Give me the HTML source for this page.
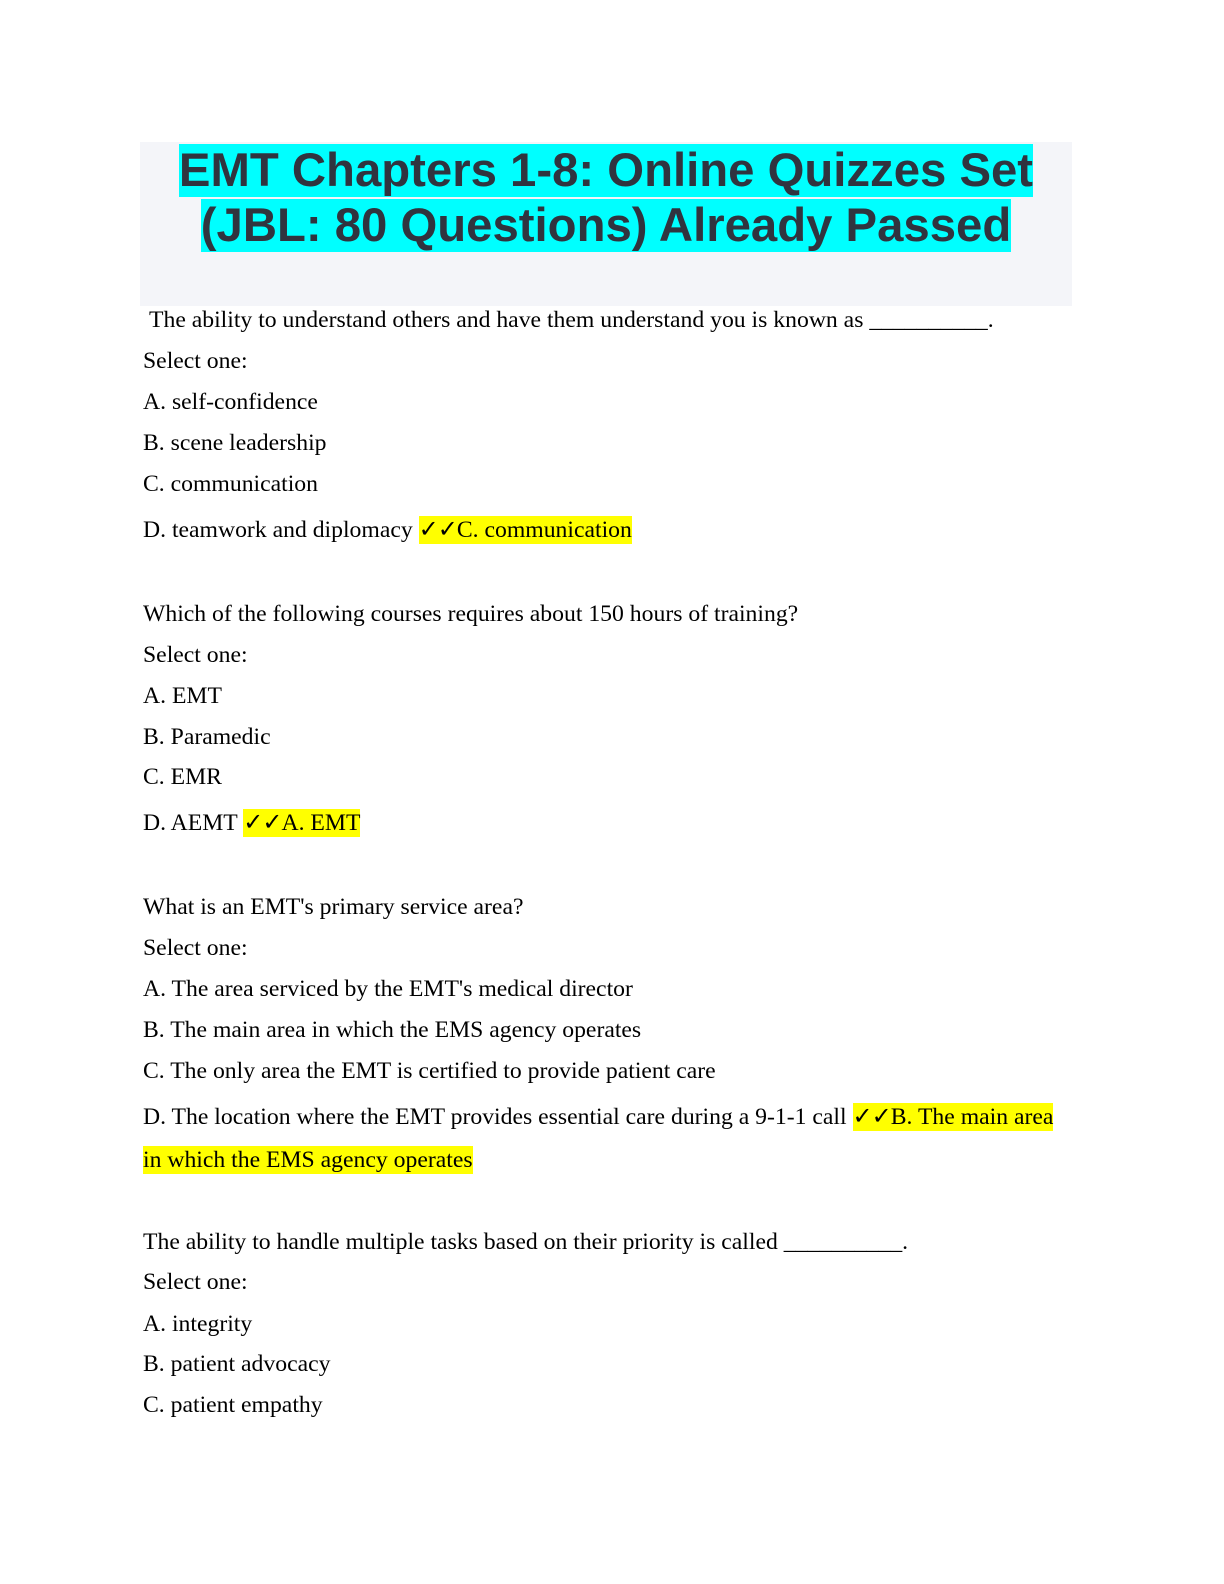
<!DOCTYPE html>
<html><head><meta charset="utf-8"><style>
body{margin:0;width:1224px;height:1584px;background:#fff;position:relative;overflow:hidden}
.box{position:absolute;left:140px;top:142px;width:932px;height:164px;background:#f4f5f9}
.title{position:absolute;left:140px;top:143px;width:932px;text-align:center;font:bold 47.3px/55px "Liberation Sans",sans-serif;color:#30343f}
.title span{background:#00ffff}
.l{position:absolute;left:143px;font:23.7px/28px "Liberation Serif",serif;color:#000;white-space:nowrap}
.h{background:#ffff00;padding:1px 0 1px}
.c{font-family:"DejaVu Sans",sans-serif;font-weight:bold;font-size:24px;letter-spacing:-1px}
</style></head><body>
<div class="box"></div>
<div class="title"><span>EMT Chapters 1-8: Online Quizzes Set</span><br><span>(JBL: 80 Questions) Already Passed</span></div>
<div class="l" style="top:306px;left:149px">The ability to understand others and have them understand you is known as __________.</div>
<div class="l" style="top:347px">Select one:</div>
<div class="l" style="top:388px">A. self-confidence</div>
<div class="l" style="top:429px">B. scene leadership</div>
<div class="l" style="top:470px">C. communication</div>
<div class="l" style="top:515px">D. teamwork and diplomacy <span class="h"><span class="c">✓✓</span>C. communication</span></div>
<div class="l" style="top:600px">Which of the following courses requires about 150 hours of training?</div>
<div class="l" style="top:641px">Select one:</div>
<div class="l" style="top:682px">A. EMT</div>
<div class="l" style="top:723px">B. Paramedic</div>
<div class="l" style="top:763px">C. EMR</div>
<div class="l" style="top:808px">D. AEMT <span class="h"><span class="c">✓✓</span>A. EMT</span></div>
<div class="l" style="top:893px">What is an EMT's primary service area?</div>
<div class="l" style="top:934px">Select one:</div>
<div class="l" style="top:975px">A. The area serviced by the EMT's medical director</div>
<div class="l" style="top:1016px">B. The main area in which the EMS agency operates</div>
<div class="l" style="top:1057px">C. The only area the EMT is certified to provide patient care</div>
<div class="l" style="top:1102px">D. The location where the EMT provides essential care during a 9-1-1 call <span class="h"><span class="c">✓✓</span>B. The main area</span></div>
<div class="l" style="top:1146px"><span class="h">in which the EMS agency operates</span></div>
<div class="l" style="top:1228px">The ability to handle multiple tasks based on their priority is called __________.</div>
<div class="l" style="top:1268px">Select one:</div>
<div class="l" style="top:1310px">A. integrity</div>
<div class="l" style="top:1350px">B. patient advocacy</div>
<div class="l" style="top:1391px">C. patient empathy</div>
</body></html>
